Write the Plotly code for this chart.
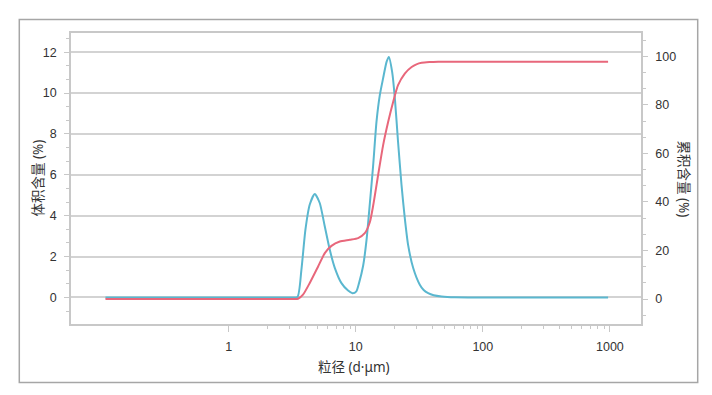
import plotly.graph_objects as go

# ---- data ----
freq_d = [0.107, 1.0, 3.02, 3.47, 3.73, 4.01, 4.34, 4.75, 5.20, 5.70, 6.24, 6.83, 7.71, 8.69,
          9.42, 10.1, 10.6, 11.42, 12.14, 12.89, 13.68, 14.55, 15.45, 16.41, 17.46, 18.2,
          19.32, 20.3, 21.5, 22.9, 24.3, 25.8, 28.3, 31.9, 34.2, 37.1, 41.0, 47.3, 60.3, 94.9, 968]
freq_v = [0.0, 0.0, 0.0, 0.02, 1.35, 3.31, 4.55, 5.06, 4.62, 3.47, 2.33, 1.45, 0.70, 0.34,
          0.21, 0.30, 0.70, 1.55, 2.80, 4.58, 6.43, 8.60, 9.90, 10.73, 11.53, 11.77,
          11.04, 9.74, 7.62, 5.50, 3.88, 2.57, 1.44, 0.62, 0.36, 0.21, 0.11, 0.05, 0.01, 0.0, 0.0]

cum_d = [0.107, 1.0, 3.2, 3.51, 3.84, 4.34, 5.05, 5.70, 6.43, 7.48, 8.97, 10.43, 11.77,
         12.89, 13.68, 14.99, 16.41, 17.98, 19.67, 21.5, 24.3, 27.5, 30.0, 33.0, 38.0,
         44.5, 60.0, 100, 968]
cum_v = [0.0, 0.0, 0.0, 0.1, 1.77, 6.6, 13.4, 18.9, 21.9, 23.7, 24.4, 25.1, 27.1,
         31.6, 38.3, 51.1, 63.4, 73.0, 81.2, 88.1, 92.9, 95.6, 96.7, 97.3, 97.6,
         97.75, 97.8, 97.8, 97.8]

x_tickvals = [1, 10, 100, 1000]
x_ticktext = ["1", "10", "100", "1000"]
x_minor_vals = [2, 3, 4, 5, 6, 7, 8, 9, 20, 30, 40, 50, 60, 70, 80, 90,
                200, 300, 400, 500, 600, 700, 800, 900]
y1_ticks = [0, 2, 4, 6, 8, 10, 12]
y2_ticks = [0, 20, 40, 60, 80, 100]

x_title = "粒径 (d·μm)"
y1_title = "体积含量 (%)"
y2_title = "累积含量 (%)"

# ---- styling ----
CYAN = "#5ab7cf"
RED = "#e8677b"
TXT = "#333333"
AX = "#c8c8c8"
TICKFONT = dict(family="Liberation Sans Narrow, Liberation Sans, Arial", size=12.5, color=TXT)
TITLEFONT = dict(family="Noto Sans, Noto Sans CJK SC", size=13.5, color=TXT)

# page body has an 8px default margin; size the figure so the plot lands in place
W, H = 704, 387
ML, MR, MT, MB = 63, 71, 25, 71
PW = W - ML - MR
PH = H - MT - MB

fig = go.Figure()
fig.add_trace(go.Scatter(x=freq_d, y=freq_v, mode="lines", yaxis="y",
                         line=dict(color=CYAN, width=2, shape="spline", smoothing=0.6),
                         hoverinfo="skip", showlegend=False))
fig.add_trace(go.Scatter(x=cum_d, y=cum_v, mode="lines", yaxis="y2",
                         line=dict(color=RED, width=2, shape="spline", smoothing=0.6),
                         hoverinfo="skip", showlegend=False))

fig.update_layout(
    width=W, height=H,
    margin=dict(l=ML, r=MR, t=MT, b=MB, autoexpand=False),
    paper_bgcolor="white", plot_bgcolor="white",
    xaxis=dict(type="log", range=[-1.242, 3.245], tickmode="array",
               tickvals=x_tickvals, ticktext=x_ticktext,
               showgrid=False, zeroline=False,
               showline=True, linecolor=AX, linewidth=1.5, mirror=True,
               ticks="outside", ticklen=6, tickcolor=AX, tickwidth=1,
               tickfont=TICKFONT, ticklabelstandoff=4,
               minor=dict(tickmode="array", tickvals=x_minor_vals, ticks="outside",
                          ticklen=3, tickcolor=AX, showgrid=False)),
    yaxis=dict(range=[-1.3, 12.94], tickmode="array", tickvals=y1_ticks,
               showgrid=True, gridcolor="#d3d3d3", gridwidth=1.5, zeroline=False,
               showline=True, linecolor=AX, linewidth=1.5, mirror=True,
               ticks="outside", ticklen=5, tickcolor=AX, tickwidth=1,
               tickfont=TICKFONT, ticklabelstandoff=5,
               minor=dict(dtick=2/3, tick0=0, ticks="outside", ticklen=3,
                          tickcolor=AX, showgrid=False)),
    yaxis2=dict(range=[-10.3, 109.6], overlaying="y", side="right",
                tickmode="array", tickvals=y2_ticks,
                showgrid=False, zeroline=False,
                showline=True, linecolor=AX, linewidth=1.5,
                ticks="outside", ticklen=5, tickcolor=AX, tickwidth=1,
                tickfont=TICKFONT, ticklabelstandoff=5,
                minor=dict(dtick=20/3, tick0=0, ticks="outside", ticklen=3,
                           tickcolor=AX, showgrid=False)),
    shapes=[dict(type="rect", xref="paper", yref="paper",
                 x0=-51.7/PW, x1=1 + 56.7/PW, y0=-58.4/PH, y1=1 + 13.4/PH,
                 line=dict(color="#a6a6a6", width=1.5), fillcolor="rgba(0,0,0,0)")],
    annotations=[
        dict(text=y1_title, xref="paper", yref="paper", x=-34/PW, y=0.5,
             textangle=-90, showarrow=False, xanchor="center", yanchor="middle",
             font=TITLEFONT),
        dict(text=y2_title, xref="paper", yref="paper", x=1 + 43/PW, y=0.5,
             textangle=90, showarrow=False, xanchor="center", yanchor="middle",
             font=TITLEFONT),
        dict(text=x_title, xref="paper", yref="paper", x=(354 - 71) / PW, y=-42.5/PH,
             showarrow=False, xanchor="center", yanchor="middle",
             font=TITLEFONT),
    ],
)

fig.write_html("out.html")
